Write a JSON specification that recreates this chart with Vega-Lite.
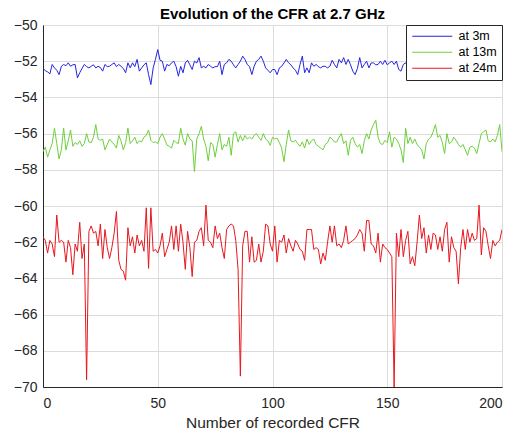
{
"$schema": "https://vega.github.io/schema/vega-lite/v6.json",
"width": 459, "height": 362,
"autosize": {"type": "none"},
"padding": {"left": 43, "top": 25, "right": 18, "bottom": 49},
"background": "white",
"title": {"text": "Evolution of the CFR at 2.7 GHz", "font": "Liberation Sans", "fontSize": 15, "fontWeight": "bold", "color": "#000000", "offset": -4, "anchor": "middle"},
"data": {"values": [
{"x":0,"at 3m":-52.4,"at 13m":-57.0,"at 24m":-61.7},
{"x":1,"at 3m":-52.52,"at 13m":-56.74,"at 24m":-61.9},
{"x":2,"at 3m":-52.59,"at 13m":-57.3,"at 24m":-62.6},
{"x":3,"at 3m":-52.7,"at 13m":-56.9,"at 24m":-61.9},
{"x":4,"at 3m":-52.18,"at 13m":-56.55,"at 24m":-62.1},
{"x":5,"at 3m":-52.37,"at 13m":-55.7,"at 24m":-62.8},
{"x":6,"at 3m":-52.5,"at 13m":-56.55,"at 24m":-60.5},
{"x":7,"at 3m":-52.74,"at 13m":-57.4,"at 24m":-62.0},
{"x":8,"at 3m":-52.28,"at 13m":-56.9,"at 24m":-61.9},
{"x":9,"at 3m":-52.18,"at 13m":-55.7,"at 24m":-62.0},
{"x":10,"at 3m":-52.25,"at 13m":-56.9,"at 24m":-63.1},
{"x":11,"at 3m":-52.09,"at 13m":-56.4,"at 24m":-61.9},
{"x":12,"at 3m":-52.28,"at 13m":-55.8,"at 24m":-62.3},
{"x":13,"at 3m":-52.2,"at 13m":-56.7,"at 24m":-63.8},
{"x":14,"at 3m":-52.18,"at 13m":-56.5,"at 24m":-62.1},
{"x":15,"at 3m":-52.92,"at 13m":-56.6,"at 24m":-62.5},
{"x":16,"at 3m":-52.64,"at 13m":-56.4,"at 24m":-60.9},
{"x":17,"at 3m":-52.4,"at 13m":-56.7,"at 24m":-62.9},
{"x":18,"at 3m":-52.18,"at 13m":-56.55,"at 24m":-62.1},
{"x":19,"at 3m":-52.3,"at 13m":-56.0,"at 24m":-69.6},
{"x":20,"at 3m":-52.37,"at 13m":-56.46,"at 24m":-61.4},
{"x":21,"at 3m":-52.28,"at 13m":-56.5,"at 24m":-61.1},
{"x":22,"at 3m":-52.2,"at 13m":-56.2,"at 24m":-61.5},
{"x":23,"at 3m":-52.37,"at 13m":-55.5,"at 24m":-61.4},
{"x":24,"at 3m":-52.28,"at 13m":-56.3,"at 24m":-62.2},
{"x":25,"at 3m":-52.35,"at 13m":-56.37,"at 24m":-61.0},
{"x":26,"at 3m":-52.55,"at 13m":-56.3,"at 24m":-62.9},
{"x":27,"at 3m":-52.18,"at 13m":-56.9,"at 24m":-61.3},
{"x":28,"at 3m":-52.3,"at 13m":-56.6,"at 24m":-62.3},
{"x":29,"at 3m":-52.28,"at 13m":-56.3,"at 24m":-62.9},
{"x":30,"at 3m":-52.18,"at 13m":-56.46,"at 24m":-62.3},
{"x":31,"at 3m":-52.09,"at 13m":-56.6,"at 24m":-61.5},
{"x":32,"at 3m":-52.3,"at 13m":-56.8,"at 24m":-60.3},
{"x":33,"at 3m":-52.18,"at 13m":-56.1,"at 24m":-63.0},
{"x":34,"at 3m":-52.28,"at 13m":-56.4,"at 24m":-63.5},
{"x":35,"at 3m":-52.4,"at 13m":-56.9,"at 24m":-63.6},
{"x":36,"at 3m":-52.64,"at 13m":-56.5,"at 24m":-64.1},
{"x":37,"at 3m":-52.09,"at 13m":-55.7,"at 24m":-61.2},
{"x":38,"at 3m":-52.37,"at 13m":-56.55,"at 24m":-62.2},
{"x":39,"at 3m":-52.09,"at 13m":-56.4,"at 24m":-61.7},
{"x":40,"at 3m":-52.3,"at 13m":-56.2,"at 24m":-62.6},
{"x":41,"at 3m":-51.9,"at 13m":-56.55,"at 24m":-61.6},
{"x":42,"at 3m":-52.55,"at 13m":-56.4,"at 24m":-62.2},
{"x":43,"at 3m":-52.37,"at 13m":-56.46,"at 24m":-61.9},
{"x":44,"at 3m":-52.2,"at 13m":-56.2,"at 24m":-62.5},
{"x":45,"at 3m":-52.09,"at 13m":-56.1,"at 24m":-60.1},
{"x":46,"at 3m":-52.74,"at 13m":-55.8,"at 24m":-63.45},
{"x":47,"at 3m":-53.29,"at 13m":-56.37,"at 24m":-60.1},
{"x":48,"at 3m":-52.37,"at 13m":-56.5,"at 24m":-62.5},
{"x":49,"at 3m":-51.9,"at 13m":-56.46,"at 24m":-62.4},
{"x":50,"at 3m":-51.36,"at 13m":-56.55,"at 24m":-62.6},
{"x":51,"at 3m":-51.95,"at 13m":-56.2,"at 24m":-62.2},
{"x":52,"at 3m":-52.0,"at 13m":-56.0,"at 24m":-61.5},
{"x":53,"at 3m":-52.55,"at 13m":-56.3,"at 24m":-62.8},
{"x":54,"at 3m":-52.18,"at 13m":-56.64,"at 24m":-62.4},
{"x":55,"at 3m":-52.25,"at 13m":-56.7,"at 24m":-62.0},
{"x":56,"at 3m":-52.09,"at 13m":-56.8,"at 24m":-61.1},
{"x":57,"at 3m":-52.0,"at 13m":-56.37,"at 24m":-62.4},
{"x":58,"at 3m":-52.3,"at 13m":-56.5,"at 24m":-61.1},
{"x":59,"at 3m":-52.83,"at 13m":-56.55,"at 24m":-62.5},
{"x":60,"at 3m":-52.28,"at 13m":-55.7,"at 24m":-61.0},
{"x":61,"at 3m":-52.64,"at 13m":-56.3,"at 24m":-62.0},
{"x":62,"at 3m":-52.1,"at 13m":-56.64,"at 24m":-63.5},
{"x":63,"at 3m":-51.95,"at 13m":-56.0,"at 24m":-61.4},
{"x":64,"at 3m":-52.2,"at 13m":-56.3,"at 24m":-62.3},
{"x":65,"at 3m":-52.46,"at 13m":-56.4,"at 24m":-63.9},
{"x":66,"at 3m":-52.0,"at 13m":-58.1,"at 24m":-62.0},
{"x":67,"at 3m":-52.1,"at 13m":-56.3,"at 24m":-61.9},
{"x":68,"at 3m":-51.8,"at 13m":-56.0,"at 24m":-61.4},
{"x":69,"at 3m":-52.37,"at 13m":-55.6,"at 24m":-61.2},
{"x":70,"at 3m":-52.28,"at 13m":-56.3,"at 24m":-62.2},
{"x":71,"at 3m":-52.37,"at 13m":-56.7,"at 24m":-59.95},
{"x":72,"at 3m":-52.18,"at 13m":-57.5,"at 24m":-61.9},
{"x":73,"at 3m":-52.28,"at 13m":-56.5,"at 24m":-62.0},
{"x":74,"at 3m":-52.37,"at 13m":-56.6,"at 24m":-62.3},
{"x":75,"at 3m":-52.3,"at 13m":-57.3,"at 24m":-61.1},
{"x":76,"at 3m":-52.3,"at 13m":-56.6,"at 24m":-61.8},
{"x":77,"at 3m":-52.0,"at 13m":-56.0,"at 24m":-61.5},
{"x":78,"at 3m":-52.74,"at 13m":-56.9,"at 24m":-62.3},
{"x":79,"at 3m":-52.18,"at 13m":-56.6,"at 24m":-62.9},
{"x":80,"at 3m":-52.09,"at 13m":-56.7,"at 24m":-61.3},
{"x":81,"at 3m":-51.9,"at 13m":-56.2,"at 24m":-61.1},
{"x":82,"at 3m":-52.0,"at 13m":-57.2,"at 24m":-61.0},
{"x":83,"at 3m":-52.2,"at 13m":-56.0,"at 24m":-61.1},
{"x":84,"at 3m":-52.37,"at 13m":-55.9,"at 24m":-61.9},
{"x":85,"at 3m":-52.18,"at 13m":-56.46,"at 24m":-63.5},
{"x":86,"at 3m":-52.0,"at 13m":-56.1,"at 24m":-69.4},
{"x":87,"at 3m":-51.72,"at 13m":-56.4,"at 24m":-62.2},
{"x":88,"at 3m":-51.9,"at 13m":-56.1,"at 24m":-61.4},
{"x":89,"at 3m":-52.18,"at 13m":-56.3,"at 24m":-61.4},
{"x":90,"at 3m":-52.3,"at 13m":-56.2,"at 24m":-63.1},
{"x":91,"at 3m":-52.74,"at 13m":-56.3,"at 24m":-61.7},
{"x":92,"at 3m":-52.28,"at 13m":-56.1,"at 24m":-63.1},
{"x":93,"at 3m":-52.0,"at 13m":-56.0,"at 24m":-63.0},
{"x":94,"at 3m":-51.9,"at 13m":-56.2,"at 24m":-62.1},
{"x":95,"at 3m":-51.72,"at 13m":-56.37,"at 24m":-63.1},
{"x":96,"at 3m":-52.0,"at 13m":-56.0,"at 24m":-62.5},
{"x":97,"at 3m":-52.37,"at 13m":-56.3,"at 24m":-61.0},
{"x":98,"at 3m":-52.5,"at 13m":-56.4,"at 24m":-61.1},
{"x":99,"at 3m":-52.64,"at 13m":-56.65,"at 24m":-62.1},
{"x":100,"at 3m":-52.46,"at 13m":-56.2,"at 24m":-62.5},
{"x":101,"at 3m":-52.46,"at 13m":-56.3,"at 24m":-61.1},
{"x":102,"at 3m":-52.74,"at 13m":-56.25,"at 24m":-63.1},
{"x":103,"at 3m":-52.37,"at 13m":-56.5,"at 24m":-61.9},
{"x":104,"at 3m":-52.28,"at 13m":-56.8,"at 24m":-62.0},
{"x":105,"at 3m":-52.1,"at 13m":-57.55,"at 24m":-61.6},
{"x":106,"at 3m":-51.9,"at 13m":-56.6,"at 24m":-62.6},
{"x":107,"at 3m":-52.09,"at 13m":-55.8,"at 24m":-61.8},
{"x":108,"at 3m":-52.2,"at 13m":-56.4,"at 24m":-62.2},
{"x":109,"at 3m":-52.37,"at 13m":-56.46,"at 24m":-62.5},
{"x":110,"at 3m":-52.5,"at 13m":-56.37,"at 24m":-61.9},
{"x":111,"at 3m":-52.74,"at 13m":-56.55,"at 24m":-62.1},
{"x":112,"at 3m":-52.18,"at 13m":-56.7,"at 24m":-62.4},
{"x":113,"at 3m":-51.72,"at 13m":-56.46,"at 24m":-62.5},
{"x":114,"at 3m":-52.64,"at 13m":-56.8,"at 24m":-63.0},
{"x":115,"at 3m":-52.37,"at 13m":-56.3,"at 24m":-61.3},
{"x":116,"at 3m":-52.64,"at 13m":-56.6,"at 24m":-61.3},
{"x":117,"at 3m":-52.09,"at 13m":-56.4,"at 24m":-61.3},
{"x":118,"at 3m":-52.28,"at 13m":-56.3,"at 24m":-62.4},
{"x":119,"at 3m":-52.18,"at 13m":-56.6,"at 24m":-62.3},
{"x":120,"at 3m":-52.3,"at 13m":-56.7,"at 24m":-62.4},
{"x":121,"at 3m":-52.37,"at 13m":-56.8,"at 24m":-63.2},
{"x":122,"at 3m":-52.28,"at 13m":-56.9,"at 24m":-62.6},
{"x":123,"at 3m":-52.28,"at 13m":-56.6,"at 24m":-63.0},
{"x":124,"at 3m":-52.37,"at 13m":-56.5,"at 24m":-62.0},
{"x":125,"at 3m":-52.28,"at 13m":-56.2,"at 24m":-61.1},
{"x":126,"at 3m":-51.95,"at 13m":-56.3,"at 24m":-62.0},
{"x":127,"at 3m":-52.18,"at 13m":-56.46,"at 24m":-61.1},
{"x":128,"at 3m":-52.37,"at 13m":-56.46,"at 24m":-62.2},
{"x":129,"at 3m":-51.9,"at 13m":-56.2,"at 24m":-62.1},
{"x":130,"at 3m":-52.09,"at 13m":-56.0,"at 24m":-62.3},
{"x":131,"at 3m":-51.8,"at 13m":-56.55,"at 24m":-61.9},
{"x":132,"at 3m":-52.18,"at 13m":-56.4,"at 24m":-61.1},
{"x":133,"at 3m":-51.9,"at 13m":-57.2,"at 24m":-62.1},
{"x":134,"at 3m":-52.2,"at 13m":-56.37,"at 24m":-62.0},
{"x":135,"at 3m":-52.55,"at 13m":-56.2,"at 24m":-61.9},
{"x":136,"at 3m":-52.74,"at 13m":-56.55,"at 24m":-61.8},
{"x":137,"at 3m":-52.4,"at 13m":-56.75,"at 24m":-61.6},
{"x":138,"at 3m":-51.8,"at 13m":-56.6,"at 24m":-61.3},
{"x":139,"at 3m":-52.37,"at 13m":-57.1,"at 24m":-61.5},
{"x":140,"at 3m":-52.18,"at 13m":-56.4,"at 24m":-62.5},
{"x":141,"at 3m":-52.0,"at 13m":-56.0,"at 24m":-60.8},
{"x":142,"at 3m":-52.37,"at 13m":-56.3,"at 24m":-60.8},
{"x":143,"at 3m":-52.1,"at 13m":-55.8,"at 24m":-62.1},
{"x":144,"at 3m":-52.09,"at 13m":-55.5,"at 24m":-62.2},
{"x":145,"at 3m":-52.2,"at 13m":-55.26,"at 24m":-62.6},
{"x":146,"at 3m":-52.18,"at 13m":-56.2,"at 24m":-61.5},
{"x":147,"at 3m":-52.0,"at 13m":-56.55,"at 24m":-63.1},
{"x":148,"at 3m":-52.18,"at 13m":-56.6,"at 24m":-62.1},
{"x":149,"at 3m":-51.95,"at 13m":-56.37,"at 24m":-62.3},
{"x":150,"at 3m":-52.2,"at 13m":-56.5,"at 24m":-62.4},
{"x":151,"at 3m":-52.09,"at 13m":-55.9,"at 24m":-62.6},
{"x":152,"at 3m":-52.0,"at 13m":-56.75,"at 24m":-62.8},
{"x":153,"at 3m":-52.18,"at 13m":-56.2,"at 24m":-70.0},
{"x":154,"at 3m":-52.0,"at 13m":-56.3,"at 24m":-61.5},
{"x":155,"at 3m":-52.46,"at 13m":-56.55,"at 24m":-62.8},
{"x":156,"at 3m":-52.55,"at 13m":-56.9,"at 24m":-61.3},
{"x":157,"at 3m":-52.18,"at 13m":-57.6,"at 24m":-62.8},
{"x":158,"at 3m":-52.09,"at 13m":-55.7,"at 24m":-61.9},
{"x":159,"at 3m":-52.3,"at 13m":-56.55,"at 24m":-61.4},
{"x":160,"at 3m":-52.1,"at 13m":-56.2,"at 24m":-63.2},
{"x":161,"at 3m":-52.4,"at 13m":-56.55,"at 24m":-62.8},
{"x":162,"at 3m":-52.2,"at 13m":-56.3,"at 24m":-63.3},
{"x":163,"at 3m":-52.5,"at 13m":-56.6,"at 24m":-62.0},
{"x":164,"at 3m":-52.0,"at 13m":-56.75,"at 24m":-60.5},
{"x":165,"at 3m":-52.3,"at 13m":-56.9,"at 24m":-61.8},
{"x":166,"at 3m":-52.6,"at 13m":-57.4,"at 24m":-61.2},
{"x":167,"at 3m":-52.2,"at 13m":-56.55,"at 24m":-62.6},
{"x":168,"at 3m":-52.1,"at 13m":-56.3,"at 24m":-61.6},
{"x":169,"at 3m":-52.4,"at 13m":-56.2,"at 24m":-62.4},
{"x":170,"at 3m":-52.3,"at 13m":-55.9,"at 24m":-61.5},
{"x":171,"at 3m":-52.6,"at 13m":-55.5,"at 24m":-61.6},
{"x":172,"at 3m":-52.2,"at 13m":-56.2,"at 24m":-62.4},
{"x":173,"at 3m":-52.0,"at 13m":-56.1,"at 24m":-61.7},
{"x":174,"at 3m":-52.4,"at 13m":-56.5,"at 24m":-62.5},
{"x":175,"at 3m":-52.3,"at 13m":-57.1,"at 24m":-61.3},
{"x":176,"at 3m":-52.5,"at 13m":-56.0,"at 24m":-60.9},
{"x":177,"at 3m":-52.1,"at 13m":-56.55,"at 24m":-63.1},
{"x":178,"at 3m":-52.3,"at 13m":-56.46,"at 24m":-61.7},
{"x":179,"at 3m":-52.2,"at 13m":-56.2,"at 24m":-62.3},
{"x":180,"at 3m":-52.6,"at 13m":-56.37,"at 24m":-62.5},
{"x":181,"at 3m":-53.0,"at 13m":-56.6,"at 24m":-64.3},
{"x":182,"at 3m":-52.4,"at 13m":-56.75,"at 24m":-62.3},
{"x":183,"at 3m":-52.2,"at 13m":-56.6,"at 24m":-61.3},
{"x":184,"at 3m":-52.3,"at 13m":-56.9,"at 24m":-62.4},
{"x":185,"at 3m":-52.1,"at 13m":-57.2,"at 24m":-61.3},
{"x":186,"at 3m":-52.4,"at 13m":-56.75,"at 24m":-62.0},
{"x":187,"at 3m":-52.5,"at 13m":-56.7,"at 24m":-61.5},
{"x":188,"at 3m":-52.2,"at 13m":-56.8,"at 24m":-61.9},
{"x":189,"at 3m":-52.3,"at 13m":-57.1,"at 24m":-61.8},
{"x":190,"at 3m":-52.0,"at 13m":-56.55,"at 24m":-59.95},
{"x":191,"at 3m":-52.4,"at 13m":-56.0,"at 24m":-62.7},
{"x":192,"at 3m":-52.3,"at 13m":-55.9,"at 24m":-61.2},
{"x":193,"at 3m":-52.6,"at 13m":-55.8,"at 24m":-61.4},
{"x":194,"at 3m":-52.2,"at 13m":-56.4,"at 24m":-62.2},
{"x":195,"at 3m":-52.1,"at 13m":-56.46,"at 24m":-62.9},
{"x":196,"at 3m":-52.4,"at 13m":-56.3,"at 24m":-61.9},
{"x":197,"at 3m":-52.3,"at 13m":-56.46,"at 24m":-62.2},
{"x":198,"at 3m":-52.5,"at 13m":-56.1,"at 24m":-62.0},
{"x":199,"at 3m":-52.2,"at 13m":-55.5,"at 24m":-61.9},
{"x":200,"at 3m":-52.3,"at 13m":-57.0,"at 24m":-61.3}
]},
"transform": [{"fold": ["at 3m", "at 13m", "at 24m"], "as": ["series", "value"]}],
"mark": {"type": "line", "strokeWidth": 1, "clip": true},
"encoding": {
  "x": {"field": "x", "type": "quantitative",
    "scale": {"domain": [0, 200], "nice": false},
    "axis": {"values": [0, 50, 100, 150, 200], "title": "Number of recorded CFR", "titleFontSize": 15.5, "titleFontWeight": "normal", "titlePadding": 5, "labelFontSize": 14, "labelPadding": 9, "ticks": false, "tickSize": 0}},
  "y": {"field": "value", "type": "quantitative",
    "scale": {"domain": [-70, -50], "nice": false, "zero": false},
    "axis": {"values": [-70, -68, -66, -64, -62, -60, -58, -56, -54, -52, -50], "title": null, "labelFontSize": 14, "labelPadding": 6, "ticks": false, "tickSize": 0}},
  "color": {"field": "series", "type": "nominal",
    "scale": {"domain": ["at 3m", "at 13m", "at 24m"], "range": ["#2424e0", "#6cd03a", "#e8161e"]},
    "legend": {"title": null, "orient": "top-right", "offset": 0, "symbolType": "M-4,0H4", "symbolSize": 100, "symbolStrokeWidth": 1, "symbolOffset": 15, "labelFontSize": 12.5, "labelOffset": 20, "rowPadding": 3, "padding": 5, "strokeColor": "#262626", "fillColor": "white", "labelColor": "#000000"}},
  "order": {"field": "x", "type": "quantitative"}
},
"config": {
  "font": "Liberation Sans",
  "view": {"stroke": "#262626", "strokeWidth": 1},
  "axis": {"domainColor": "#262626", "labelColor": "#262626", "titleColor": "#262626", "gridColor": "#dcdcdc", "gridOpacity": 1, "labelFont": "Liberation Sans", "titleFont": "Liberation Sans"},
  "legend": {"labelFont": "Liberation Sans"}
}
}
